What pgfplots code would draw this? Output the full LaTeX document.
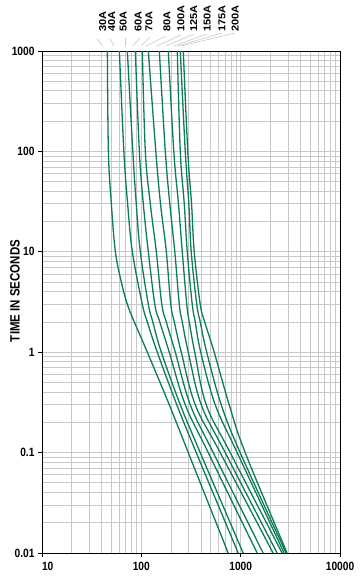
\documentclass[border=0pt]{standalone}
\usepackage{fontspec}
\setmainfont{Liberation Sans}[FakeStretch=0.85]
\newfontfamily\labfont{Liberation Sans}[FakeStretch=1.1]
\usepackage{pgfplots}
\pgfplotsset{compat=1.18}
\definecolor{fuse}{RGB}{12,124,82}
\definecolor{gridc}{RGB}{200,200,200}
\pgfplotsset{fc/.style={color=fuse, line width=1.3pt, smooth, tension=0.6, mark=none}}
\begin{document}
\begin{tikzpicture}
\useasboundingbox (-42pt,-25pt) rectangle (317pt,553pt);
\begin{axis}[
  at={(0pt,0pt)}, anchor=south west,
  scale only axis, width=298pt, height=502pt,
  xmode=log, ymode=log,
  xmin=10, xmax=10000, ymin=0.01, ymax=1000,
  xtick={10,100,1000,10000},
  xticklabels={\makebox[0pt][l]{10},100,1000,10000},
  ytick={0.01,0.1,1,10,100,1000},
  yticklabels={0.01,0.1,1,10,100,1000},
  minor xtick={20,30,40,50,60,70,80,90,200,300,400,500,600,700,800,900,2000,3000,4000,5000,6000,7000,8000,9000},
  minor ytick={0.02,0.03,0.04,0.05,0.06,0.07,0.08,0.09,0.2,0.3,0.4,0.5,0.6,0.7,0.8,0.9,2,3,4,5,6,7,8,9,20,30,40,50,60,70,80,90,200,300,400,500,600,700,800,900},
  grid=both,
  major grid style={gridc, line width=0.9pt},
  minor grid style={gridc, line width=0.9pt},
  xtick pos=bottom, ytick pos=left,
  tick align=outside, major tick length=4pt, minor tick length=0pt,
  axis line style={black, line width=0.8pt},
  tick style={black, line width=0.8pt},
  ticklabel style={font=\fontsize{12}{13}\selectfont\bfseries},
  xticklabel style={yshift=-1.5pt},
  /pgf/number format/assume math mode=true,
]
% 30A
\addplot[fc] coordinates {(45.5,1000) (46.6,100) (49.9,30) (54.8,10) (62.9,5) (72.3,3) (85.0,2) (114.9,1) (191.1,0.3) (296.8,0.1) (748.7,0.01)};
% 40A
\addplot[fc] coordinates {(60.1,1000) (66.7,100) (72.8,30) (81.2,10) (102.3,3) (114.9,2) (144.8,1) (227.4,0.3) (357.1,0.1) (943.8,0.01)};
% 50A
\addplot[fc] coordinates {(72.3,1000) (82.1,100) (88.9,30) (97.7,10) (117.6,3) (130.5,2) (158.9,1) (246.6,0.3) (391.7,0.1) (1059.6,0.01)};
% 60A
\addplot[fc] coordinates {(87.0,1000) (95.5,100) (104.7,30) (117.6,10) (136.7,3) (153.4,2) (191.1,1) (276.8,0.3) (471.4,0.1) (1465,0.01)};
% 70A
\addplot[fc] coordinates {(102.3,1000) (109.7,100) (123.2,30) (141.5,10) (160.7,3) (178.4,2) (219.7,1) (310.8,0.3) (529.2,0.1) (1683,0.01)};
% 80A
\addplot[fc] coordinates {(117.6,1000) (139.9,100) (156.0,30) (178.4,10) (197.9,3) (214.7,2) (252.4,1) (348.9,0.3) (622.2,0.1) (2121,0.01)};
% 100A
\addplot[fc] coordinates {(151.7,1000) (174.3,100) (193.4,30) (217.2,10) (241.0,3) (258.3,2) (296.8,1) (400.9,0.3) (698.6,0.1) (2327,0.01)};
% 125A
\addplot[fc] coordinates {(186.8,1000) (212.2,100) (236.5,30) (258.3,10) (286.6,3) (303.7,2) (344.9,1) (450.1,0.3) (784.3,0.1) (2613,0.01)};
% 150A
\addplot[fc] coordinates {(230.1,1000) (246.6,100) (270.5,30) (290.0,10) (325.4,3) (348.9,2) (396.3,1) (554.2,0.3) (922.2,0.1) (2737,0.01)};
% 175A
\addplot[fc] coordinates {(246.6,1000) (276.8,100) (300.9,30) (318.0,10) (361.3,3) (391.7,2) (455.2,1) (636.8,0.3) (988.5,0.1) (2866,0.01)};
% 200A
\addplot[fc] coordinates {(264.3,1000) (293.4,100) (320.2,30) (340.9,10) (391.7,3) (434.7,2) (541.5,1) (766.4,0.3) (1109.7,0.1) (2934,0.01)};
\end{axis}
\node[rotate=90, font=\fontsize{13.5}{14}\selectfont\bfseries] at (-27pt,262pt) {TIME IN SECONDS};
\begin{scope}[gridc, line width=0.6pt]
\draw (55pt,514pt) -- (61pt,507pt);
\draw (68pt,514pt) -- (72pt,507pt);
\draw (83pt,515pt) -- (83pt,507pt);
\draw (98pt,515pt) -- (91pt,507pt);
\draw (108pt,516pt) -- (99pt,507pt);
\draw (124pt,517pt) -- (104pt,507pt);
\draw (139pt,518pt) -- (115pt,507pt);
\draw (152pt,519pt) -- (124pt,507pt);
\draw (165pt,519pt) -- (132pt,507pt);
\draw (180pt,520pt) -- (136pt,507pt);
\draw (193pt,520pt) -- (139pt,507pt);
\end{scope}
\begin{scope}[every node/.style={rotate=90, anchor=west, inner sep=0pt, font=\labfont\fontsize{10}{11}\selectfont\bfseries}]
\node at (60.7pt,521pt) {30A};
\node at (69.7pt,521pt) {40A};
\node at (81.3pt,521pt) {50A};
\node at (96.3pt,521pt) {60A};
\node at (107pt,521pt) {70A};
\node at (125pt,521pt) {80A};
\node at (139pt,521pt) {100A};
\node at (151.7pt,521pt) {125A};
\node at (165.3pt,521pt) {150A};
\node at (180pt,521pt) {175A};
\node at (193.3pt,521pt) {200A};
\end{scope}
\end{tikzpicture}
\end{document}
